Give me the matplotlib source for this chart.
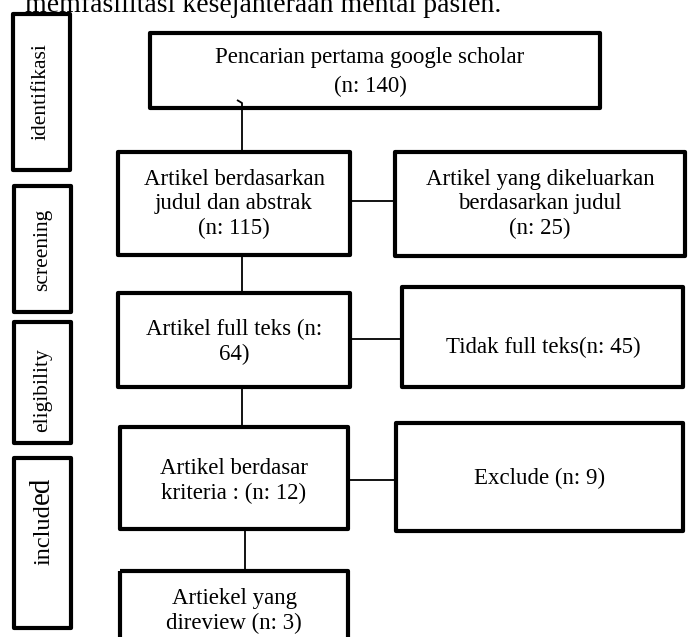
import matplotlib.pyplot as plt
from matplotlib.patches import Rectangle

# stage labels on the left
tahap = ["identifikasi", "screening", "eligibility"]
tahap_akhir = ("includ", "ed")

# main flow (left column)
alur = ["Pencarian pertama google scholar\n(n: 140)",
        "Artikel berdasarkan\njudul dan abstrak\n(n: 115)",
        "Artikel full teks (n:\n64)",
        "Artikel berdasar\nkriteria : (n: 12)",
        "Artiekel yang\ndireview (n: 3)"]

# excluded boxes (right column)
keluar = ["Artikel yang dikeluarkan\nberdasarkan judul\n(n: 25)",
          "Tidak full teks(n: 45)",
          "Exclude (n: 9)"]

judul = "memfasilitasi kesejahteraan mental pasien."

plt.rcParams['font.family'] = ['Liberation Serif', 'DejaVu Serif']

fig = plt.figure(figsize=(6.9, 6.37), dpi=100)
ax = fig.add_axes([0, 0, 1, 1])
ax.set_xlim(0, 690)
ax.set_ylim(637, 0)
ax.axis('off')

def kotak(x0, y0, x1, y1, lw=3.0):
    r = Rectangle((x0, y0), x1 - x0, y1 - y0, fill=False, ec='black',
                  lw=lw, joinstyle='round')
    ax.add_patch(r)

def garis(xs, ys):
    ax.plot(xs, ys, color='black', lw=1.3, solid_capstyle='butt')

fs = 16.5

# partial heading cut at the top
ax.text(25, 12, judul, fontsize=20, ha='left', va='baseline')

# left stage boxes
kiri = [(13, 14, 70, 170), (14, 186, 71, 312), (14, 322, 71, 443), (14, 458, 71, 628)]
pos_teks = [92, 250, 390]
for (x0, y0, x1, y1), lbl, yt in zip(kiri[:3], tahap, pos_teks):
    kotak(x0, y0, x1, y1)
    ax.text((x0 + x1) / 2, yt, lbl, rotation=90, fontsize=15.5,
            ha='center', va='center')
x0, y0, x1, y1 = kiri[3]
kotak(x0, y0, x1, y1)
ax.text(44, 504, tahap_akhir[0], rotation=90, fontsize=17.5, ha='center', va='top')
ax.text(42, 504, tahap_akhir[1], rotation=90, fontsize=21, ha='center', va='bottom')

# main column boxes
utama = [(150, 33, 600, 108), (118, 152, 350, 255), (118, 293, 350, 387),
         (120, 427, 348, 529), (120, 571, 348, 650)]
pos_utama = [(370, 72), (234, 204), (234, 342), (234, 481), (234, 611)]
spasi = [1.5, 1.2, 1.2, 1.2, 1.2]
for (bx0, by0, bx1, by1), lbl, (tx, ty), ls in zip(utama, alur, pos_utama, spasi):
    kotak(bx0, by0, bx1, by1)
    ax.text(tx, ty, lbl, fontsize=fs, ha='center', va='center', linespacing=ls)

# right column boxes
kanan = [(395, 152, 685, 256), (402, 287, 683, 387), (396, 423, 683, 531)]
pos_kanan = [(540, 204), (543, 347), (540, 478)]
for (bx0, by0, bx1, by1), lbl, (tx, ty) in zip(kanan, keluar, pos_kanan):
    kotak(bx0, by0, bx1, by1)
    ax.text(tx, ty, lbl, fontsize=fs, ha='center', va='center', linespacing=1.2)

# connectors
garis([237, 242, 242], [100, 103, 152])
garis([242, 242], [255, 293])
garis([242, 242], [387, 427])
garis([245, 245], [529, 571])
garis([350, 395], [201, 201])
garis([350, 402], [339, 339])
garis([348, 396], [480, 480])

fig.savefig('out.png', dpi=100)
